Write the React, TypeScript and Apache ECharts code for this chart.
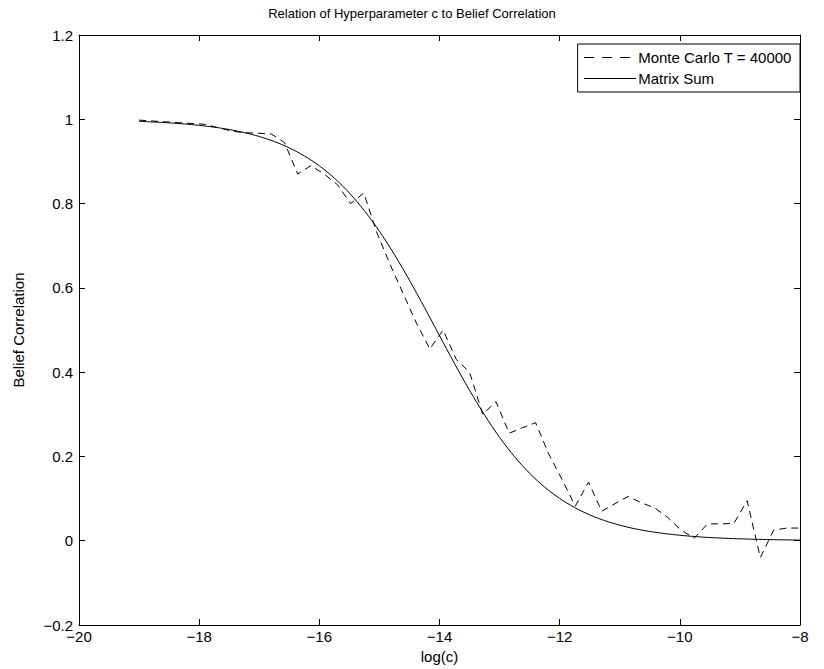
import React, { useEffect, useRef } from "react";
import * as echarts from "echarts";

const titleText = "Relation of Hyperparameter c to Belief Correlation";
const xName = "log(c)";
const yName = "Belief Correlation";
const seriesNames = ["Monte Carlo T = 40000", "Matrix Sum"];

const mcX = [-19, -18.78, -18.56, -18.34, -18.12, -17.9, -17.68, -17.46, -17.24, -17.02,
  -16.8, -16.58, -16.36, -16.14, -15.92, -15.7, -15.48, -15.26, -15.04, -14.82,
  -14.6, -14.38, -14.16, -13.94, -13.72, -13.5, -13.28, -13.06, -12.84, -12.62,
  -12.4, -12.18, -11.96, -11.74, -11.52, -11.3, -11.08, -10.86, -10.64, -10.42,
  -10.2, -9.98, -9.76, -9.54, -9.32, -9.1, -8.88, -8.66, -8.44, -8.22, -8];
const mcY = [0.998, 0.996, 0.994, 0.992, 0.99, 0.988, 0.98, 0.972, 0.968, 0.967,
  0.965, 0.945, 0.87, 0.89, 0.87, 0.845, 0.8, 0.825, 0.73, 0.655,
  0.585, 0.515, 0.455, 0.5, 0.43, 0.4, 0.3, 0.33, 0.255, 0.268,
  0.28, 0.205, 0.145, 0.082, 0.139, 0.07, 0.088, 0.105, 0.09, 0.078,
  0.055, 0.025, 0.006, 0.04, 0.04, 0.041, 0.095, -0.04, 0.025, 0.03, 0.03];

const msX = [-19, -18.75, -18.5, -18.25, -18, -17.75, -17.5, -17.25, -17, -16.75,
  -16.5, -16.25, -16, -15.75, -15.5, -15.25, -15, -14.75, -14.5, -14.25,
  -14, -13.75, -13.5, -13.25, -13, -12.75, -12.5, -12.25, -12, -11.75,
  -11.5, -11.25, -11, -10.75, -10.5, -10.25, -10, -9.75, -9.5, -9.25,
  -9, -8.75, -8.5, -8.25, -8];
const msY = [0.995, 0.9935, 0.9915, 0.989, 0.9856, 0.9813, 0.9757, 0.9684, 0.9592, 0.9473,
  0.9322, 0.9132, 0.8896, 0.8604, 0.8251, 0.7831, 0.7343, 0.679, 0.6181, 0.5533,
  0.4866, 0.4204, 0.357, 0.2982, 0.2453, 0.1992, 0.16, 0.1272, 0.1003, 0.0786,
  0.0613, 0.0476, 0.0368, 0.0284, 0.0219, 0.0169, 0.013, 0.0099, 0.0076, 0.0058,
  0.0045, 0.0034, 0.0026, 0.002, 0.0015];

const xTicks = { min: -20, max: -8, interval: 2 };
const yTicks = { min: -0.2, max: 1.2, interval: 0.2 };

const FONT = "'Liberation Sans', Arial, Helvetica, sans-serif";

function fmt(v: number) {
  const r = Math.round(v * 10) / 10;
  return String(r).replace("-", "\u2212");
}

export default function App() {
  const ref = useRef<HTMLDivElement>(null);
  useEffect(() => {
    const chart = echarts.init(ref.current!, null, { renderer: "svg" });
    const axisLine = { show: true, onZero: false, lineStyle: { color: "#000", width: 1 } };
    const tick = { show: true, inside: true, length: 6, lineStyle: { color: "#000" } };
    const label = { color: "#000", fontFamily: FONT, fontSize: 15 };
    chart.setOption({
      animation: false,
      backgroundColor: "#fff",
      textStyle: { fontFamily: FONT },
      title: {
        text: titleText,
        left: "center",
        top: 2,
        textStyle: { fontFamily: FONT, fontSize: 13, fontWeight: "normal", color: "#000" },
      },
      legend: {
        orient: "vertical",
        right: 24,
        top: 44,
        itemWidth: 52,
        itemHeight: 12,
        itemGap: 6,
        padding: [6, 8, 6, 6],
        borderColor: "#000",
        borderWidth: 1,
        borderRadius: 0,
        backgroundColor: "#fff",
        itemStyle: { opacity: 0 },
        lineStyle: { width: 1 },
        textStyle: { fontFamily: FONT, fontSize: 15, color: "#000", padding: [0, 0, 0, -3] },
        data: [
          { name: seriesNames[0], lineStyle: { width: 1, type: [10, 8] } },
          { name: seriesNames[1], lineStyle: { width: 1, type: "solid" } },
        ],
      },
      grid: { left: 79, right: 24, top: 35, bottom: 33 },
      xAxis: [
        {
          type: "value",
          ...xTicks,
          name: xName,
          nameLocation: "middle",
          nameGap: 24,
          nameTextStyle: { ...label },
          axisLine,
          axisTick: tick,
          splitLine: { show: false },
          axisLabel: { ...label, margin: 4, formatter: (v: number) => fmt(v) },
        },
        {
          type: "value",
          ...xTicks,
          position: "top",
          axisLine,
          axisTick: tick,
          splitLine: { show: false },
          axisLabel: { show: false },
        },
      ],
      yAxis: [
        {
          type: "value",
          ...yTicks,
          name: yName,
          nameLocation: "middle",
          nameGap: 53,
          nameTextStyle: { ...label },
          axisLine,
          axisTick: tick,
          splitLine: { show: false },
          axisLabel: { ...label, margin: 6, formatter: (v: number) => fmt(v) },
        },
        {
          type: "value",
          ...yTicks,
          position: "right",
          axisLine,
          axisTick: tick,
          splitLine: { show: false },
          axisLabel: { show: false },
        },
      ],
      series: [
        {
          name: seriesNames[0],
          type: "line",
          xAxisIndex: 0,
          yAxisIndex: 0,
          data: mcX.map((x, i) => [x, mcY[i]]),
          showSymbol: false,
          symbol: "none",
          lineStyle: { color: "#000", width: 1, type: [7, 5] },
          itemStyle: { color: "#000" },
        },
        {
          name: seriesNames[1],
          type: "line",
          xAxisIndex: 0,
          yAxisIndex: 0,
          data: msX.map((x, i) => [x, msY[i]]),
          showSymbol: false,
          symbol: "none",
          smooth: 0.3,
          lineStyle: { color: "#000", width: 1, type: "solid" },
          itemStyle: { color: "#000" },
        },
      ],
    });
    return () => chart.dispose();
  }, []);
  return (
    <div
      ref={ref}
      style={{ position: "absolute", left: 0, top: 0, width: 824, height: 669, background: "#fff" }}
    />
  );
}
